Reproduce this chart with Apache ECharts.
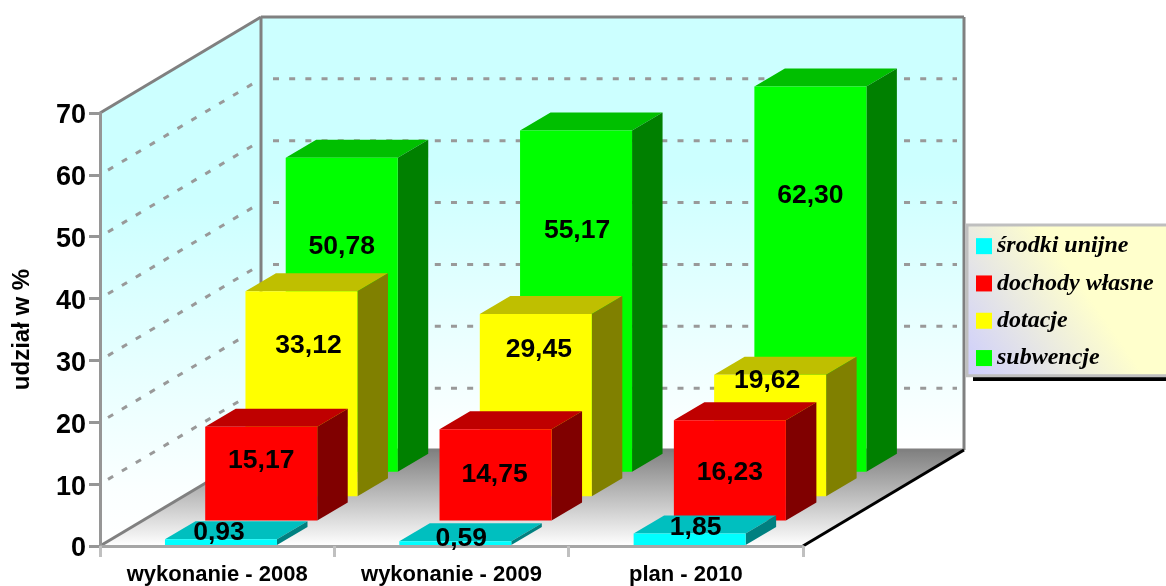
<!DOCTYPE html>
<html>
<head>
<meta charset="utf-8">
<style>html,body{margin:0;padding:0;background:#fff}#c{width:1166px;height:586px}</style>
<script src="https://cdn.jsdelivr.net/npm/echarts@6/dist/echarts.min.js"></script>
</head>
<body>
<div id="c"></div>
<script>
const categories = ['wykonanie - 2008', 'wykonanie - 2009', 'plan - 2010'];
const srodkiUnijne = [0.93, 0.59, 1.85];
const dochodyWlasne = [15.17, 14.75, 16.23];
const dotacje = [33.12, 29.45, 19.62];
const subwencje = [50.78, 55.17, 62.30];
const gridValues = [10, 20, 30, 40, 50, 60];

// presentation only: perspective and where the original put each value label
const depth = { x: 161, y: 96 };
const rowStep = { x: 40.25, y: 24.4 };
const barInset = { x: 3.8, y: 1 };
const barDepth = { x: 30.5, y: 18 };
const barWidthRatio = 0.478;
const labelFont = 'bold 26.5px "Liberation Sans", Arial, sans-serif';
const labelShift = [
  [[-2, -7], [6, -3], [6, -6]],
  [[0, 34], [-1, 45], [0, 52]],
  [[7, 54], [3, 36], [-3, 6]],
  [[0, 89], [1, 100], [0, 109]]
];

const chart = echarts.init(document.getElementById('c'), null, { renderer: 'canvas' });

function pts(arr) { return { points: arr }; }

function barSeries(name, values, row, colors) {
  return {
    name: name,
    type: 'custom',
    z: 2,
    coordinateSystem: 'cartesian2d',
    itemStyle: { color: colors[0] },
    encode: { x: 0, y: 1 },
    data: values.map((v, i) => [i, v]),
    renderItem: function (params, api) {
      const c = api.value(0), v = api.value(1);
      const band = api.size([1, 0])[0];
      const w = band * barWidthRatio;
      const base = api.coord([c, 0]);
      const top = api.coord([c, v]);
      const x0 = base[0] - w / 2 + barInset.x + row * rowStep.x;
      const x1 = x0 + w;
      const yb = base[1] - barInset.y - row * rowStep.y;
      const yt = top[1] - barInset.y - row * rowStep.y;
      const dx = barDepth.x, dy = barDepth.y;
      const z2 = (3 - row) * 10 + 1;
      const sh = labelShift[row][c];
      return {
        type: 'group',
        children: [
          { type: 'polygon', z2: z2, shape: pts([[x0, yt], [x1, yt], [x1 + dx, yt - dy], [x0 + dx, yt - dy]]), style: { fill: colors[1] } },
          { type: 'polygon', z2: z2, shape: pts([[x1, yt], [x1 + dx, yt - dy], [x1 + dx, yb - dy], [x1, yb]]), style: { fill: colors[2] } },
          { type: 'rect', z2: z2 + 1, shape: { x: x0, y: yt, width: w, height: yb - yt }, style: { fill: colors[0] } },
          { type: 'text', z2: 100, style: { text: v.toFixed(2).replace('.', ','), x: (x0 + x1) / 2 + sh[0], y: yt + sh[1], align: 'center', verticalAlign: 'middle', font: labelFont, fill: '#000' } }
        ]
      };
    }
  };
}

const wallSeries = {
  name: 'walls',
  type: 'custom',
  z: 1,
  silent: true,
  coordinateSystem: 'cartesian2d',
  encode: { x: 0, y: 1 },
  data: [[0, 0]],
  renderItem: function (params, api) {
    const band = api.size([1, 0])[0];
    const a = api.coord([0, 0]);
    const top = api.coord([0, 70]);
    const xL = a[0] - band / 2, xR = xL + band * categories.length;
    const yB = a[1], yT = top[1];
    const dx = depth.x, dy = depth.y;
    const gray = '#808080';
    const children = [];
    // back wall
    children.push({ type: 'polygon', shape: pts([[xL + dx, yT - dy], [xR + dx, yT - dy], [xR + dx, yB - dy], [xL + dx, yB - dy]]),
      style: { fill: new echarts.graphic.LinearGradient(0, 0, 0, 1, [{ offset: 0, color: '#CCFFFF' }, { offset: 0.35, color: '#CCFFFF' }, { offset: 1, color: '#FFFFFF' }]) } });
    // left wall
    children.push({ type: 'polygon', shape: pts([[xL, yT], [xL + dx, yT - dy], [xL + dx, yB - dy], [xL, yB]]),
      style: { fill: new echarts.graphic.LinearGradient(0, 0, 0, 1, [{ offset: 0, color: '#CCFFFF' }, { offset: 0.35, color: '#CCFFFF' }, { offset: 0.9, color: '#FBFFFF' }, { offset: 1, color: '#FFFFFF' }]) } });
    // floor
    children.push({ type: 'polygon', shape: pts([[xL, yB], [xL + dx, yB - dy], [xR + dx, yB - dy], [xR, yB]]),
      style: { fill: new echarts.graphic.LinearGradient(0, 0, 0, 1, [{ offset: 0, color: '#808080' }, { offset: 1, color: '#FFFFFF' }]) } });
    gridValues.forEach(v => {
      const y = api.coord([0, v])[1];
      const dash = { stroke: '#999999', lineWidth: 3, lineDash: [6, 10.18], fill: null };
      children.push({ type: 'polyline', z2: 1, shape: pts([[xL + 8, y - 8 * dy / dx], [xL + dx, y - dy]]), style: dash });
      children.push({ type: 'polyline', z2: 1, shape: pts([[xL + dx + 12, y - dy], [xR + dx - 7, y - dy]]), style: dash });
    });
    const edge = (p, q, color, lw) => ({ type: 'line', z2: 2, shape: { x1: p[0], y1: p[1], x2: q[0], y2: q[1] }, style: { stroke: color, lineWidth: lw } });
    children.push(edge([xL + dx, yT - dy], [xL + dx, yB - dy], gray, 3));
    children.push(edge([xL + dx, yT - dy], [xR + dx, yT - dy], gray, 3));
    children.push(edge([xR + dx, yT - dy], [xR + dx, yB - dy], gray, 3));
    children.push(edge([xL + dx, yB - dy], [xR + dx, yB - dy], gray, 3));
    children.push(edge([xL, yT], [xL + dx, yT - dy], gray, 3));
    children.push(edge([xL, yB], [xL + dx, yB - dy], gray, 3));
    children.push(edge([xR, yB], [xR + dx, yB - dy], '#000000', 3));
    return { type: 'group', children: children };
  }
};

chart.setOption({
  animation: false,
  backgroundColor: '#FFFFFF',
  textStyle: { fontFamily: '"Liberation Sans", Arial, sans-serif' },
  grid: { left: 100, top: 113, width: 703, height: 433, containLabel: false },
  graphic: [{ type: 'rect', z: 3, silent: true, shape: { x: 973, y: 300, width: 200, height: 81 }, style: { fill: '#000000' } }],
  legend: {
    z: 5,
    orient: 'vertical',
    left: 967,
    top: 225,
    padding: [7.5, 30, 4, 9],
    itemWidth: 16,
    itemHeight: 16,
    itemGap: 10,
    selectedMode: false,
    icon: 'rect',
    data: ['środki unijne', 'dochody własne', 'dotacje', 'subwencje'],
    textStyle: { fontFamily: '"Liberation Serif", "Times New Roman", serif', fontWeight: 'bold', fontStyle: 'italic', fontSize: 24, color: '#000', height: 27.3, lineHeight: 27.3, padding: [0, 0, 0, 0] },
    borderColor: '#BFBFBF',
    borderWidth: 3,
    backgroundColor: new echarts.graphic.LinearGradient(0, 1, 0.55, 0.45, [{ offset: 0, color: '#CCCCFF' }, { offset: 1, color: '#FFFFCC' }])
  },
  xAxis: {
    type: 'category',
    data: categories,
    z: 1.5,
    axisLine: { show: true, lineStyle: { color: '#A6A6A6', width: 3 } },
    axisTick: { show: true, alignWithLabel: false, length: 11, lineStyle: { color: '#C0C0C0', width: 3 } },
    axisLabel: { interval: 0, color: '#000', fontWeight: 'bold', fontSize: 22, margin: 18, fontFamily: '"Liberation Sans", Arial, sans-serif' },
    splitLine: { show: false }
  },
  yAxis: {
    type: 'value',
    min: 0,
    max: 70,
    interval: 10,
    z: 1.5,
    name: 'udział w %',
    nameLocation: 'middle',
    nameGap: 66,
    nameRotate: 90,
    nameTextStyle: { color: '#000', fontWeight: 'bold', fontSize: 24, fontFamily: '"Liberation Sans", Arial, sans-serif' },
    axisLine: { show: true, lineStyle: { color: '#969696', width: 3 } },
    axisTick: { show: true, length: 11, lineStyle: { color: '#969696', width: 3 } },
    axisLabel: {
      color: '#000', margin: 14,
      formatter: '{t|{value}}',
      rich: { t: { color: '#000', fontWeight: 'bold', fontSize: 27, padding: [6, 0, 0, 0], fontFamily: '"Liberation Sans", Arial, sans-serif' } }
    },
    splitLine: { show: false }
  },
  series: [
    wallSeries,
    barSeries('subwencje', subwencje, 3, ['#00FF00', '#00BF00', '#008000']),
    barSeries('dotacje', dotacje, 2, ['#FFFF00', '#BFBF00', '#808000']),
    barSeries('dochody własne', dochodyWlasne, 1, ['#FF0000', '#BF0000', '#800000']),
    barSeries('środki unijne', srodkiUnijne, 0, ['#00FFFF', '#00BFBF', '#008080'])
  ]
});
</script>
</body>
</html>
